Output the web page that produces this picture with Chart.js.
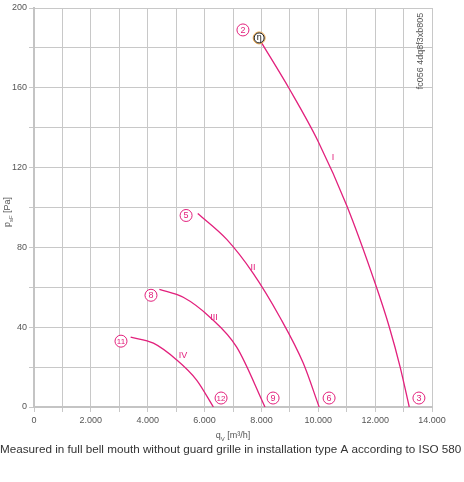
<!DOCTYPE html>
<html>
<head>
<meta charset="utf-8">
<script src="https://cdn.jsdelivr.net/npm/chart.js@4.4.0/dist/chart.umd.min.js"></script>
<style>
  html, body { margin: 0; padding: 0; background: #fff; }
  #wrap { width: 464px; height: 482px; position: relative; }
</style>
</head>
<body>
<div id="wrap"><canvas id="fanChart" width="464" height="482"></canvas></div>
<script>
// Fan curves: airflow q_V [m³/h] vs. pressure p_sF [Pa]
const curveIx = [7985, 9000, 10000, 11000, 12000, 12500, 12880, 13200];
const curveIy = [183, 159, 133, 101, 62, 40, 20, 0];
const curveIIx = [5760, 6780, 7710, 8650, 9470, 10030];
const curveIIy = [97, 84, 67, 45, 22, 0];
const curveIIIx = [4410, 5250, 6190, 7130, 8125];
const curveIIIy = [59, 55, 45, 30, 0];
const curveIVx = [3400, 4200, 5020, 5720, 6310];
const curveIVy = [35, 32, 23.6, 13.5, 0];

// Curve names and the circled operating-point numbers
const romanNames = ['I', 'II', 'III', 'IV'];
const romanX = [10520, 7700, 6330, 5240];
const romanY = [125, 70, 45, 26];
const pointNames = ['2', '5', '8', '11', '3', '6', '9', '12'];
const pointX = [7350, 5350, 4115, 3060, 13540, 10380, 8410, 6580];
const pointY = [189, 96, 56, 33, 4.5, 4.5, 4.5, 4.5];
const etaX = 7920, etaY = 185;

const xTicks = [0, 2000, 4000, 6000, 8000, 10000, 12000, 14000];
const yTicks = [0, 40, 80, 120, 160, 200];

const pink = '#e2207c';
const font = '"Liberation Sans", Arial, sans-serif';

function toPoints(xs, ys) {
    return xs.map((x, i) => ({ x: x, y: ys[i] }));
}

function fmt(v) {
    return v.toLocaleString('de-DE');
}

// Labels, axis titles and caption drawn on top of the chart
const labelsPlugin = {
    id: 'fanLabels',
    afterDraw(chart) {
        const c = chart.ctx;
        const xs = chart.scales.x, ys = chart.scales.y;
        c.save();

        // roman numerals
        c.fillStyle = pink;
        c.font = '9px ' + font;
        c.textAlign = 'center';
        c.textBaseline = 'middle';
        romanNames.forEach((t, i) => {
            c.fillText(t, xs.getPixelForValue(romanX[i]), ys.getPixelForValue(romanY[i]));
        });

        // circled numbers
        pointNames.forEach((t, i) => {
            const px = xs.getPixelForValue(pointX[i]);
            const py = ys.getPixelForValue(pointY[i]);
            c.beginPath();
            c.arc(px, py, 6, 0, Math.PI * 2);
            c.fillStyle = '#fff';
            c.fill();
            c.strokeStyle = pink;
            c.lineWidth = 1;
            c.stroke();
            c.fillStyle = pink;
            c.font = (t.length > 1 ? '8px ' : '9px ') + font;
            c.fillText(t, px, py + 0.5);
        });

        // efficiency marker
        const ex = xs.getPixelForValue(etaX), ey = ys.getPixelForValue(etaY);
        c.beginPath();
        c.arc(ex, ey, 6, 0, Math.PI * 2);
        c.fillStyle = '#fff';
        c.fill();
        c.strokeStyle = '#e8a040';
        c.lineWidth = 1;
        c.stroke();
        c.beginPath();
        c.arc(ex, ey, 5, 0, Math.PI * 2);
        c.strokeStyle = '#111';
        c.stroke();
        c.fillStyle = '#111';
        c.font = '9px ' + font;
        c.fillText('η', ex, ey);

        // vertical code at top right
        c.save();
        c.translate(chart.chartArea.right - 11, chart.chartArea.top + 43);
        c.rotate(-Math.PI / 2);
        c.fillStyle = '#555';
        c.font = '9px ' + font;
        c.fillText('fc056 4dq8f3xb805', 0, 0);
        c.restore();

        // y axis title: p_sF [Pa]
        c.save();
        c.translate(8, 212);
        c.rotate(-Math.PI / 2);
        c.fillStyle = '#555';
        c.textAlign = 'left';
        c.font = '9px ' + font;
        const w1 = c.measureText('p').width;
        c.font = '6px ' + font;
        const w2 = c.measureText('sF').width;
        c.font = '9px ' + font;
        const w3 = c.measureText(' [Pa]').width;
        let sx = -(w1 + w2 + w3) / 2;
        c.fillText('p', sx, 0);
        c.font = '6px ' + font;
        c.fillText('sF', sx + w1, 3);
        c.font = '9px ' + font;
        c.fillText(' [Pa]', sx + w1 + w2, 0);
        c.restore();

        // x axis title: q_V [m³/h]
        c.fillStyle = '#555';
        c.textAlign = 'left';
        c.font = '9px ' + font;
        const q1 = c.measureText('q').width;
        c.font = '6px ' + font;
        const q2 = c.measureText('V').width;
        c.font = '9px ' + font;
        const q3 = c.measureText(' [m³/h]').width;
        let qx = (chart.chartArea.left + chart.chartArea.right) / 2 - (q1 + q2 + q3) / 2;
        c.fillText('q', qx, 436);
        c.font = '6px ' + font;
        c.fillText('V', qx + q1, 439);
        c.font = '9px ' + font;
        c.fillText(' [m³/h]', qx + q1 + q2, 436);

        // caption
        c.fillStyle = '#333';
        c.font = '11.7px ' + font;
        c.fillText('Measured in full bell mouth without guard grille in installation type A according to ISO 580', 0, 450);
        c.restore();
    }
};

function curve(xs, ys) {
    return {
        data: toPoints(xs, ys),
        showLine: true,
        borderColor: pink,
        borderWidth: 1.3,
        pointRadius: 0,
        cubicInterpolationMode: 'monotone',
        fill: false
    };
}

const ctx = document.getElementById('fanChart').getContext('2d');
new Chart(ctx, {
    type: 'scatter',
    data: {
        datasets: [
            curve(curveIx, curveIy),
            curve(curveIIx, curveIIy),
            curve(curveIIIx, curveIIIy),
            curve(curveIVx, curveIVy)
        ]
    },
    options: {
        responsive: false,
        animation: false,
        layout: { padding: { top: 8, right: 32, left: 0, bottom: 0 } },
        plugins: {
            legend: { display: false },
            tooltip: { enabled: false }
        },
        scales: {
            x: {
                type: 'linear',
                min: 0,
                max: 14000,
                afterFit: s => { s.height = 75; },
                afterBuildTicks: s => {
                    s.ticks = [];
                    for (let v = 0; v <= 14000; v += 1000) s.ticks.push({ value: v });
                },
                ticks: {
                    autoSkip: false,
                    maxRotation: 0,
                    padding: 3,
                    color: '#555',
                    font: { family: font, size: 9 },
                    callback: v => xTicks.includes(v) ? fmt(v) : ''
                },
                grid: { color: '#c8c8c8', lineWidth: 1, tickLength: 5 },
                border: { color: '#c4c4c4', width: 2 }
            },
            y: {
                type: 'linear',
                min: 0,
                max: 200,
                afterFit: s => { s.width = 34; },
                afterBuildTicks: s => {
                    s.ticks = [];
                    for (let v = 0; v <= 200; v += 20) s.ticks.push({ value: v });
                },
                ticks: {
                    autoSkip: false,
                    padding: 2,
                    color: '#555',
                    font: { family: font, size: 9 },
                    callback: v => yTicks.includes(v) ? String(v) : ''
                },
                grid: { color: '#c8c8c8', lineWidth: 1, tickLength: 5 },
                border: { color: '#c4c4c4', width: 2 }
            }
        }
    },
    plugins: [labelsPlugin]
});
</script>
</body>
</html>
